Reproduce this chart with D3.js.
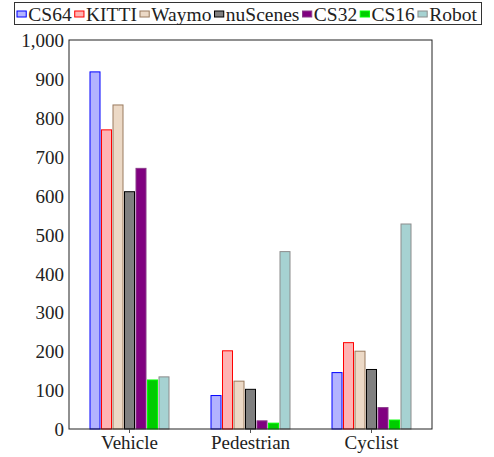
<!DOCTYPE html>
<html>
<head>
<meta charset="utf-8">
<script src="https://cdn.jsdelivr.net/npm/d3@7"></script>
<style>
  body { margin: 0; background: #fff; }
  svg text { font-family: "Liberation Serif"; }
</style>
</head>
<body>
<div id="chart"></div>
<script>
var categories = ["Vehicle", "Pedestrian", "Cyclist"];
var seriesNames = ["CS64", "KITTI", "Waymo", "nuScenes", "CS32", "CS16", "Robot"];
var cs64 = [918, 86, 145];
var kitti = [769, 201, 222];
var waymo = [833, 123, 200];
var nuscenes = [610, 102, 153];
var cs32 = [670, 21, 55];
var cs16 = [126, 15, 23];
var robot = [134, 456, 527];
var yTicks = [0, 100, 200, 300, 400, 500, 600, 700, 800, 900, 1000];

var fills = ["#b3b3ff", "#ffb3b3", "#ecd9c6", "#808080", "#800080", "#00cc00", "#a6d2d2"];
var strokes = ["#0000ff", "#ff0000", "#9a7a5e", "#000000", "#8a3a8a", "#00ff00", "#8c8c8c"];
var allValues = [cs64, kitti, waymo, nuscenes, cs32, cs16, robot];

var width = 494, height = 457;
var margin = { top: 40, left: 69, right: 62, bottom: 28 };
var innerW = width - margin.left - margin.right,
    innerH = height - margin.top - margin.bottom;

var svg = d3.select("#chart").append("svg")
  .attr("width", width)
  .attr("height", height);

var g = svg.append("g")
  .attr("transform", "translate(" + margin.left + "," + margin.top + ")");

// scales
var x0 = d3.scaleBand().domain(categories).range([0, innerW]).padding(0);
var x1 = d3.scaleBand().domain(seriesNames).range([-40.25, 40.25]).padding(0);
var y = d3.scaleLinear().domain([0, 1000]).range([innerH, 0]);

var barW = 10;

// bars
seriesNames.forEach(function(s, i) {
  g.selectAll(".bar-" + i)
    .data(allValues[i])
    .enter().append("rect")
    .attr("x", function(d, j) {
      return x0(categories[j]) + x0.bandwidth() / 2 + x1(s) + (x1.bandwidth() - barW) / 2;
    })
    .attr("y", function(d) { return y(d); })
    .attr("width", barW)
    .attr("height", function(d) { return innerH - y(d); })
    .attr("fill", fills[i])
    .attr("stroke", strokes[i])
    .attr("stroke-width", 1);
});

// y axis
var yAxis = d3.axisLeft(y).tickValues(yTicks).tickSize(0).tickPadding(5)
  .tickFormat(d3.format(","));
var ya = g.append("g").call(yAxis).attr("font-family", null).attr("font-size", 19);
ya.select(".domain").remove();
ya.selectAll("text").attr("fill", "#222").attr("dy", "0.35em")
  .attr("style", "font-family:'Liberation Serif'");

// x axis
var xAxis = d3.axisBottom(x0).tickSize(0).tickPadding(5);
var xa = g.append("g").attr("transform", "translate(0," + innerH + ")").call(xAxis)
  .attr("font-family", null).attr("font-size", 19);
xa.select(".domain").remove();
xa.selectAll("text").attr("fill", "#222").attr("dy", "0.8em")
  .attr("style", "font-family:'Liberation Serif'");

// small ticks at category centres
g.selectAll(".xtick")
  .data(categories)
  .enter().append("line")
  .attr("x1", function(d) { return x0(d) + x0.bandwidth() / 2; })
  .attr("x2", function(d) { return x0(d) + x0.bandwidth() / 2; })
  .attr("y1", innerH)
  .attr("y2", innerH + 4)
  .attr("stroke", "#555");

// frame
g.append("rect")
  .attr("width", innerW)
  .attr("height", innerH)
  .attr("fill", "none")
  .attr("stroke", "#222")
  .attr("stroke-width", 1);

// legend, squeezed to fit the reference box width
var legendOuter = svg.append("g").attr("transform", "translate(17,14)");
var legend = legendOuter.append("g").attr("font-size", 19);
var lx = 0;
seriesNames.forEach(function(s, i) {
  legend.append("rect")
    .attr("x", lx).attr("y", -3)
    .attr("width", 9).attr("height", 6)
    .attr("fill", fills[i]).attr("stroke", strokes[i]);
  var t = legend.append("text")
    .attr("x", lx + 11).attr("y", 0)
    .attr("dy", "0.35em")
    .attr("fill", "#222")
    .attr("style", "font-family:'Liberation Serif'")
    .text(s);
  lx += 11 + t.node().getComputedTextLength() + 3;
});
var target = 463;
var k = target / lx;
legend.attr("transform", "scale(" + k + ",1)");
svg.insert("rect", "g")
  .attr("x", 14.5).attr("y", 2.5)
  .attr("width", target + 4).attr("height", 22)
  .attr("fill", "#fff")
  .attr("stroke", "#333");
</script>
</body>
</html>
